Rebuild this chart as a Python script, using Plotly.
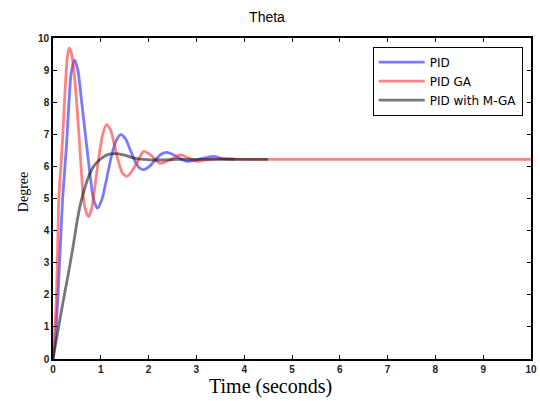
import plotly.graph_objects as go

# ---- data ----
pid_t = [0, 0.05, 0.10, 0.15, 0.20, 0.25, 0.29, 0.33, 0.38, 0.45, 0.52, 0.60, 0.69, 0.77,
         0.85, 0.93, 1.02, 1.12, 1.22, 1.32, 1.42, 1.52, 1.62, 1.72, 1.81, 1.90, 2.02,
         2.14, 2.26, 2.38, 2.50, 2.62, 2.80, 2.95, 3.10, 3.36, 3.55, 3.80]
pid_v = [0, 0.6, 1.85, 3.4, 4.96, 6.0, 6.83, 7.9, 8.9, 9.32, 9.0, 8.0, 6.83, 5.8,
         4.96, 4.70, 4.95, 5.6, 6.3, 6.8, 6.99, 6.85, 6.5, 6.15, 5.95, 5.90, 6.0,
         6.2, 6.38, 6.44, 6.38, 6.28, 6.16, 6.18, 6.24, 6.31, 6.24, 6.22]

ga_t = [0, 0.04, 0.07, 0.10, 0.12, 0.16, 0.20, 0.25, 0.30, 0.34, 0.39, 0.45, 0.50, 0.55,
        0.60, 0.64, 0.70, 0.75, 0.81, 0.88, 0.96, 1.04, 1.12, 1.20, 1.28, 1.36, 1.45,
        1.55, 1.65, 1.75, 1.90, 2.05, 2.23, 2.45, 2.66, 2.85, 3.01, 3.20, 3.50, 4.00, 10.0]
ga_v = [0, 1.0, 1.85, 3.6, 4.96, 5.9, 6.83, 8.3, 9.4, 9.69, 9.5, 8.8, 7.9, 6.83,
        5.7, 4.96, 4.55, 4.44, 4.7, 5.4, 6.3, 7.0, 7.30, 7.15, 6.7, 6.2, 5.8,
        5.69, 5.85, 6.1, 6.47, 6.35, 6.10, 6.2, 6.36, 6.25, 6.16, 6.2, 6.24, 6.22, 6.22]

mga_t = [0, 0.1, 0.2, 0.31, 0.42, 0.50, 0.57, 0.65, 0.75, 0.85, 0.97, 1.13, 1.34, 1.50,
         1.69, 1.90, 2.20, 2.60, 3.00, 3.50, 4.50]
mga_v = [0, 0.85, 1.7, 2.57, 3.5, 4.25, 4.8, 5.25, 5.7, 6.0, 6.2, 6.36, 6.4, 6.35,
         6.26, 6.22, 6.2, 6.22, 6.22, 6.22, 6.22]

names = ["PID", "PID GA", "PID with M-GA"]
colors = ["rgba(40,40,255,0.62)", "rgba(255,40,40,0.58)", "rgba(20,20,20,0.58)"]

x_ticks = list(range(0, 11))
y_ticks = list(range(0, 11))

fig = go.Figure()
for t, v, n, c in zip([pid_t, ga_t, mga_t], [pid_v, ga_v, mga_v], names, colors):
    fig.add_trace(go.Scatter(x=t, y=v, mode="lines", name=n,
                             line=dict(color=c, width=2.8, shape="spline", smoothing=0.7)))

W, H = 540, 401
L, R, T, B = 52.7, 531, 38, 359.3

axis_common = dict(showgrid=False, zeroline=False, showline=True, linecolor="black",
                   linewidth=1.6, mirror="ticks", ticks="inside", ticklen=4,
                   tickcolor="black", automargin=False,
                   tickfont=dict(family="Liberation Sans, Arial", size=10, weight="bold",
                                 color="#222"))

fig.update_layout(
    width=W, height=H,
    margin=dict(l=L, r=W - R, t=T, b=H - B, pad=0, autoexpand=False),
    paper_bgcolor="white", plot_bgcolor="white",
    xaxis=dict(range=[0, 10], tickvals=x_ticks, **axis_common),
    yaxis=dict(range=[0, 10], tickvals=y_ticks, **axis_common),
    title=dict(text="Theta", x=267 / W, xref="container", xanchor="center",
               y=1 - 17 / H, yref="container", yanchor="middle",
               font=dict(family="Liberation Sans, Arial", size=14, color="black")),
    legend=dict(x=(522.7 - L) / (R - L), y=(B - 46.7) / (B - T), xanchor="right", yanchor="top",
                bgcolor="white", bordercolor="black", borderwidth=1,
                font=dict(family="DejaVu Sans, Verdana", size=12, color="black"),
                tracegroupgap=0, itemwidth=46),
    showlegend=True,
    annotations=[
        dict(text="Time (seconds)", xref="paper", yref="paper",
             x=(270 - L) / (R - L), y=(B - 387) / (B - T), xanchor="center", yanchor="middle",
             showarrow=False, font=dict(family="Liberation Serif, Times New Roman", size=20,
                                        color="black")),
        dict(text="Degree", xref="paper", yref="paper", textangle=-90,
             x=(24 - L) / (R - L), y=(B - 192) / (B - T), xanchor="center", yanchor="middle",
             showarrow=False, font=dict(family="Liberation Serif, Times New Roman", size=14,
                                        color="black")),
    ],
)

fig.write_html("out.html", config={"displayModeBar": False},
               post_script="document.body.style.margin='0';")
